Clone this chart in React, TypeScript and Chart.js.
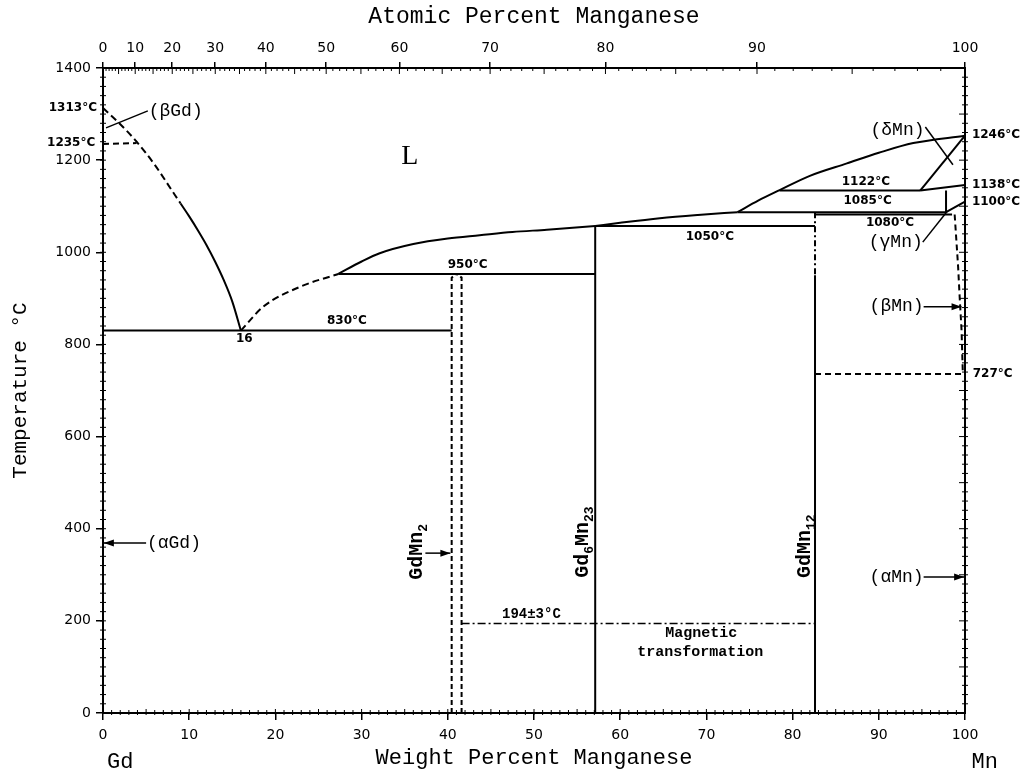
import React, { useEffect, useRef } from 'react';
import { Chart, registerables } from 'chart.js';

Chart.register(...registerables);

// ---------- axis tick data ----------
const weightTicks = [0, 10, 20, 30, 40, 50, 60, 70, 80, 90, 100];
const tempTicks = [0, 200, 400, 600, 800, 1000, 1200, 1400];
const atomicTickLabels = ['0', '10', '20', '30', '40', '50', '60', '70', '80', '90', '100'];
// weight-% positions of the atomic-% ticks
const atomicTickWt = [0, 3.74, 8.03, 13.02, 18.89, 25.89, 34.39, 44.91, 58.29, 75.87, 100];

const M_MN = 54.938;
const M_GD = 157.25;
const atToWt = (a: number) => (100 * a * M_MN) / (a * M_MN + (100 - a) * M_GD);

// ---------- phase boundary data (wt% Mn, °C) ----------
const liqGdDashed = [[0, 1313], [2, 1278], [3.9, 1240], [6, 1190], [8, 1134], [9, 1106]];
const liqGdSolid = [[9, 1106], [10, 1078], [11, 1048], [12, 1016], [13, 980], [14, 940], [15, 893], [16, 830]];
const betaGdTransition = [[0, 1235], [3.9, 1237]];
const eutectic830 = [[0, 830], [40.45, 830]];
const liqMidDashed = [[16, 830], [18.6, 882], [22.85, 925], [27.3, 953]];
const liqMidSolid = [[27.3, 953], [30, 980], [32.1, 998], [36, 1018], [40, 1030], [43.7, 1037], [47.5, 1044], [51.5, 1049], [57.1, 1057]];
const peritectic950 = [[27.3, 953], [57.1, 953]];
const gdmn2Left = [[40.45, 0], [40.45, 945], [41.0, 953]];
const gdmn2Right = [[41.6, 0], [41.6, 945], [41.0, 953]];
const gd6mn23Line = [[57.1, 0], [57.1, 1057]];
const peritectic1050 = [[57.1, 1057], [82.6, 1057]];
const liqMnLow = [[57.1, 1057], [60, 1064], [64.6, 1074], [69, 1081], [73.6, 1087]];
const liqMnHigh = [[73.6, 1087], [76, 1112], [78.5, 1135], [82, 1166], [86.3, 1193], [90, 1216], [94, 1237], [100, 1253]];
const line1085 = [[73.6, 1087], [97.8, 1087]];
const line1080 = [[82.6, 1082], [98.5, 1082]];
const line1122 = [[78.5, 1134], [94.8, 1134]];
const deltaSolidus = [[94.8, 1134], [100, 1253]];
const deltaGamma = [[94.8, 1134], [100, 1146]];
const gammaLeft = [[97.8, 1134], [97.8, 1087]];
const gammaBeta = [[97.8, 1087], [100, 1110]];
const betaMnBoundary = [[98.8, 1082], [99.2, 969], [99.4, 896], [99.6, 831], [99.75, 736]];
const line727 = [[82.6, 736], [100, 736]];
const gdmn12Upper = [[82.6, 1087], [82.6, 950]];
const gdmn12Lower = [[82.6, 950], [82.6, 0]];
const magnetic194 = [[41.6, 194], [82.6, 194]];

// leader lines
const leaderBetaGd = [[0.35, 1270], [5.2, 1307]];
const leaderDeltaMn = [[95.4, 1272], [98.6, 1190]];
const leaderGammaMn = [[95.1, 1022], [97.9, 1088]];

// arrows: [fromX, fromY, toX, toY]
const arrows = [
  [5.0, 369, 0.1, 369],
  [37.4, 347, 40.3, 347],
  [95.2, 882, 99.6, 882],
  [95.2, 295, 99.9, 295],
];

// annotation texts
const tempFont = 'bold 12px "DejaVu Sans"';
const phaseFont = '18px "Liberation Mono"';
const textLabels = [
  { text: '1313°C', x: -0.7, y: 1313, align: 'right', font: tempFont },
  { text: '1235°C', x: -0.9, y: 1237, align: 'right', font: tempFont },
  { text: '(βGd)', x: 5.3, y: 1306, align: 'left', font: phaseFont },
  { text: 'L', x: 35.6, y: 1207, align: 'center', font: '28px "Liberation Serif"' },
  { text: '830°C', x: 28.3, y: 851, align: 'center', font: tempFont },
  { text: '16', x: 16.4, y: 812, align: 'center', font: tempFont },
  { text: '950°C', x: 42.3, y: 972, align: 'center', font: tempFont },
  { text: '1050°C', x: 70.4, y: 1033, align: 'center', font: tempFont },
  { text: '1122°C', x: 88.5, y: 1152, align: 'center', font: tempFont },
  { text: '1085°C', x: 88.7, y: 1112, align: 'center', font: tempFont },
  { text: '1080°C', x: 91.3, y: 1064, align: 'center', font: tempFont },
  { text: '(γMn)', x: 95.1, y: 1022, align: 'right', font: phaseFont },
  { text: '(δMn)', x: 95.3, y: 1265, align: 'right', font: phaseFont },
  { text: '1246°C', x: 100.8, y: 1255, align: 'left', font: tempFont },
  { text: '1138°C', x: 100.8, y: 1146, align: 'left', font: tempFont },
  { text: '1100°C', x: 100.8, y: 1109, align: 'left', font: tempFont },
  { text: '(βMn)', x: 95.2, y: 882, align: 'right', font: phaseFont },
  { text: '727°C', x: 100.9, y: 736, align: 'left', font: tempFont },
  { text: '(αMn)', x: 95.2, y: 295, align: 'right', font: phaseFont },
  { text: '(αGd)', x: 5.1, y: 369, align: 'left', font: phaseFont },
  { text: '194±3°C', x: 49.7, y: 213, align: 'center', font: 'bold 14px "Liberation Mono"' },
  { text: 'Magnetic', x: 69.4, y: 174, align: 'center', font: 'bold 15px "Liberation Mono"' },
  { text: 'transformation', x: 69.3, y: 132, align: 'center', font: 'bold 15px "Liberation Mono"' },
  { text: 'Gd', x: 2.0, y: -106, align: 'center', font: '22px "Liberation Mono"' },
  { text: 'Mn', x: 102.3, y: -106, align: 'center', font: '22px "Liberation Mono"' },
];

// compound labels (rotated)
const compoundLabels = [
  { parts: [['GdMn', false], ['2', true]], x: 36.3, y: 350 },
  { parts: [['Gd', false], ['6', true], ['Mn', false], ['23', true]], x: 55.6, y: 371 },
  { parts: [['GdMn', false], ['12', true]], x: 81.3, y: 362 },
];

type Pts = number[][];
const lineDefs: { pts: Pts; dash?: number[]; smooth?: boolean; width?: number }[] = [
  { pts: liqGdDashed, dash: [7, 4], smooth: true },
  { pts: liqGdSolid, smooth: true },
  { pts: betaGdTransition, dash: [6, 4] },
  { pts: eutectic830 },
  { pts: liqMidDashed, dash: [7, 4], smooth: true },
  { pts: liqMidSolid, smooth: true },
  { pts: peritectic950 },
  { pts: gdmn2Left, dash: [5, 3] },
  { pts: gdmn2Right, dash: [5, 3] },
  { pts: gd6mn23Line },
  { pts: peritectic1050 },
  { pts: liqMnLow, smooth: true },
  { pts: liqMnHigh, smooth: true },
  { pts: line1085 },
  { pts: line1080 },
  { pts: line1122 },
  { pts: deltaSolidus },
  { pts: deltaGamma },
  { pts: gammaLeft },
  { pts: gammaBeta },
  { pts: betaMnBoundary, dash: [6, 4] },
  { pts: line727, dash: [6, 4] },
  { pts: gdmn12Upper, dash: [6, 3, 2, 3] },
  { pts: gdmn12Lower },
  { pts: magnetic194, dash: [8, 3, 2, 3], width: 1.5 },
  { pts: leaderBetaGd, width: 1.5 },
  { pts: leaderDeltaMn, width: 1.5 },
  { pts: leaderGammaMn, width: 1.5 },
];

const minorTicksPlugin = {
  id: 'minorTicks',
  afterDraw(chart: any) {
    const { ctx, chartArea, scales } = chart;
    const { left, right, top, bottom } = chartArea;
    const x = scales.x;
    const y = scales.y;
    ctx.save();
    ctx.strokeStyle = '#000';
    ctx.lineWidth = 1;
    ctx.beginPath();
    for (let w = 1; w < 100; w++) {
      const p = x.getPixelForValue(w);
      const len = w % 5 === 0 ? 4 : 3;
      ctx.moveTo(p, bottom - len);
      ctx.lineTo(p, bottom + 2);
    }
    for (let t = 20; t < 1400; t += 20) {
      const p = y.getPixelForValue(t);
      ctx.moveTo(left - 3, p);
      ctx.lineTo(left + 3, p);
      const l = t % 100 === 0 ? 6 : 3;
      ctx.moveTo(right - l, p);
      ctx.lineTo(right + 3, p);
    }
    for (let a = 1; a < 100; a++) {
      const p = x.getPixelForValue(atToWt(a));
      const len = a % 5 === 0 ? 6 : 3;
      ctx.moveTo(p, top - 1);
      ctx.lineTo(p, top + len);
    }
    ctx.stroke();
    ctx.restore();
  },
};

const annotationPlugin = {
  id: 'annotations',
  afterDatasetsDraw(chart: any) {
    const { ctx, scales } = chart;
    const X = (v: number) => scales.x.getPixelForValue(v);
    const Y = (v: number) => scales.y.getPixelForValue(v);
    ctx.save();
    ctx.fillStyle = '#000';
    ctx.strokeStyle = '#000';
    ctx.textBaseline = 'middle';
    for (const l of textLabels) {
      ctx.font = l.font;
      ctx.textAlign = l.align;
      ctx.fillText(l.text, X(l.x), Y(l.y));
    }
    // arrows
    ctx.lineWidth = 1.5;
    for (const [fx, fy, tx, ty] of arrows) {
      const x1 = X(fx), y1 = Y(fy), x2 = X(tx), y2 = Y(ty);
      const ang = Math.atan2(y2 - y1, x2 - x1);
      ctx.beginPath();
      ctx.moveTo(x1, y1);
      ctx.lineTo(x2, y2);
      ctx.stroke();
      ctx.beginPath();
      ctx.moveTo(x2, y2);
      ctx.lineTo(x2 - 10 * Math.cos(ang) + 3.5 * Math.sin(ang), y2 - 10 * Math.sin(ang) - 3.5 * Math.cos(ang));
      ctx.lineTo(x2 - 10 * Math.cos(ang) - 3.5 * Math.sin(ang), y2 - 10 * Math.sin(ang) + 3.5 * Math.cos(ang));
      ctx.closePath();
      ctx.fill();
    }
    // rotated compound labels
    const bigFont = 'bold 20px "Liberation Mono"';
    const subFont = 'bold 13px "Liberation Mono"';
    for (const c of compoundLabels) {
      ctx.save();
      ctx.translate(X(c.x), Y(c.y));
      ctx.rotate(-Math.PI / 2);
      ctx.textAlign = 'left';
      ctx.textBaseline = 'alphabetic';
      let total = 0;
      for (const [t, sub] of c.parts as [string, boolean][]) {
        ctx.font = sub ? subFont : bigFont;
        total += ctx.measureText(t).width;
      }
      let cx = -total / 2;
      for (const [t, sub] of c.parts as [string, boolean][]) {
        ctx.font = sub ? subFont : bigFont;
        ctx.fillText(t, cx, sub ? 11 : 6);
        cx += ctx.measureText(t).width;
      }
      ctx.restore();
    }
    ctx.restore();
  },
};

export default function App() {
  const ref = useRef<HTMLCanvasElement | null>(null);
  useEffect(() => {
    if (!ref.current) return;
    const datasets = lineDefs.map((d) => ({
      data: d.pts.map(([x, y]) => ({ x, y })),
      showLine: true,
      borderColor: '#000',
      backgroundColor: '#000',
      borderWidth: d.width ?? 2,
      borderDash: d.dash ?? [],
      pointRadius: 0,
      cubicInterpolationMode: d.smooth ? ('monotone' as const) : ('default' as const),
      tension: 0,
      clip: false as any,
    }));
    const tickFont = { family: 'DejaVu Sans', size: 14 };
    const titleFont = { family: 'Liberation Mono', size: 23 };
    const plain = (v: any) => String(v);
    const chart = new Chart(ref.current, {
      type: 'scatter',
      data: { datasets },
      plugins: [minorTicksPlugin, annotationPlugin],
      options: {
        animation: false,
        responsive: false,
        events: [],
        layout: { padding: 0 },
        plugins: { legend: { display: false }, tooltip: { enabled: false } },
        scales: {
          x: {
            type: 'linear',
            position: 'bottom',
            min: 0,
            max: 100,
            afterBuildTicks: (s: any) => {
              s.ticks = weightTicks.map((v) => ({ value: v }));
            },
            afterFit: (s: any) => {
              s.height = 62;
            },
            ticks: { font: tickFont, color: '#000', padding: 7, maxRotation: 0, autoSkip: false, callback: plain },
            grid: { drawOnChartArea: false, drawTicks: true, tickLength: 7, color: '#000', lineWidth: 1.5 },
            border: { display: true, color: '#000', width: 2 },
            title: { display: true, text: 'Weight Percent Manganese', font: { family: 'Liberation Mono', size: 22 }, color: '#000', padding: { top: 0, bottom: 4 } },
          },
          x2: {
            type: 'linear',
            position: 'top',
            min: 0,
            max: 100,
            afterBuildTicks: (s: any) => {
              s.ticks = atomicTickWt.map((v) => ({ value: v }));
            },
            afterFit: (s: any) => {
              s.height = 68;
            },
            ticks: {
              font: tickFont,
              color: '#000',
              padding: 5,
              maxRotation: 0,
              autoSkip: false,
              callback: (_v: any, i: number) => atomicTickLabels[i],
            },
            grid: { drawOnChartArea: false, drawTicks: true, tickLength: 6, color: '#000', lineWidth: 1.5 },
            border: { display: true, color: '#000', width: 2 },
            title: { display: true, text: 'Atomic Percent Manganese', font: titleFont, color: '#000', padding: { top: 3, bottom: 0 } },
          },
          y: {
            type: 'linear',
            position: 'left',
            min: 0,
            max: 1400,
            afterBuildTicks: (s: any) => {
              s.ticks = tempTicks.map((v) => ({ value: v }));
            },
            afterFit: (s: any) => {
              s.width = 103;
            },
            ticks: { font: tickFont, color: '#000', padding: 5, callback: plain },
            grid: { drawOnChartArea: false, drawTicks: true, tickLength: 7, color: '#000', lineWidth: 1.5 },
            border: { display: true, color: '#000', width: 2 },
            title: { display: true, text: 'Temperature °C', font: { family: 'Liberation Mono', size: 21 }, color: '#000', padding: { top: 8, bottom: 0 } },
          },
          y2: {
            type: 'linear',
            position: 'right',
            min: 0,
            max: 1400,
            afterFit: (s: any) => {
              s.width = 63;
            },
            ticks: { display: false },
            grid: { drawOnChartArea: false, drawTicks: false },
            border: { display: true, color: '#000', width: 2 },
          },
        },
      },
    } as any);
    return () => chart.destroy();
  }, []);
  return (
    <div style={{ position: 'fixed', left: 0, top: 0, width: 1028, height: 775, background: '#fff' }}>
      <canvas ref={ref} width={1028} height={775} style={{ display: 'block' }} />
    </div>
  );
}
